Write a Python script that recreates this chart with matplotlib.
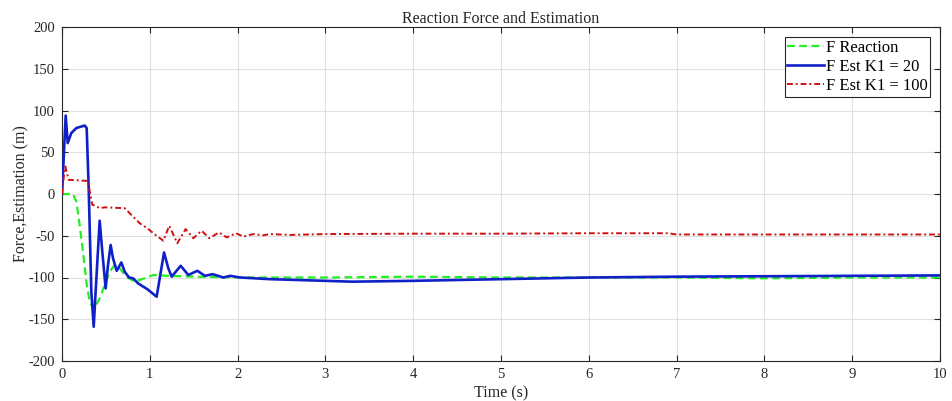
import matplotlib
matplotlib.use("Agg")
import matplotlib.pyplot as plt

plt.rcParams['font.family'] = ['Liberation Serif', 'DejaVu Serif']
plt.rcParams['axes.unicode_minus'] = False

# F Reaction
t_react = [0, 0.125, 0.163, 0.201, 0.239, 0.277, 0.315, 0.364, 0.429, 0.486, 0.543, 0.60,
           0.657, 0.733, 0.828, 0.94, 1.04, 1.2, 1.5, 2, 3, 4, 5, 6, 7, 8, 9, 10]
f_react = [0, 0, -9, -37, -69, -105, -129, -138, -125, -109, -93, -85,
           -89, -99, -105, -101, -97, -98, -99, -100, -100, -99, -100, -100, -100, -101, -100, -100]

# F Est K1 = 20
t_k20 = [0, 0.042, 0.065, 0.106, 0.163, 0.258, 0.281, 0.304, 0.334, 0.361, 0.383, 0.429,
         0.459, 0.497, 0.524, 0.554, 0.581, 0.623, 0.676, 0.714, 0.763, 0.81, 0.866, 0.972,
         1.078, 1.162, 1.211, 1.249, 1.352, 1.439, 1.541, 1.629, 1.716, 1.837, 1.913, 2.027,
         2.37, 3.0, 3.3, 4.0, 5.0, 6.0, 7.0, 8.0, 9.0, 10.0]
f_k20 = [0, 94, 61, 73, 79, 82, 79, 7, -117, -159, -117, -32,
         -69, -113, -85, -61, -77, -92, -82, -93, -100, -101, -107, -114,
         -123, -70, -89, -99, -86, -97, -92, -98, -96, -100, -98, -100,
         -102, -104, -105, -104, -102, -100, -99, -98.5, -98, -97.5]

# F Est K1 = 100
t_k100 = [0, 0.023, 0.038, 0.061, 0.076, 0.296, 0.323, 0.346, 0.38, 0.429, 0.486, 0.714,
          0.79, 0.885, 0.972, 1.04, 1.154, 1.222, 1.313, 1.408, 1.496, 1.59, 1.678, 1.788,
          1.876, 1.982, 2.065, 2.18, 2.29, 2.37, 2.6, 3, 4, 5, 6, 6.9, 7.0, 8, 9, 10]
f_k100 = [0, 23, 33, 23, 17, 15.6, -1, -13, -14, -17, -16, -17,
          -25, -35, -41, -47, -56, -38, -59, -42, -53, -44, -53, -46,
          -52, -47, -51, -48, -49.5, -48, -49, -48, -47.5, -47.5, -47, -47, -48.5, -48.5, -48.5, -48.5]

x_ticks = list(range(0, 11))
y_ticks = list(range(-200, 201, 50))

fig = plt.figure(figsize=(9.52, 4.01), dpi=100)
ax = fig.add_axes([62/952, 1-361/401, (940-62)/952, (361-27)/401])

ax.plot(t_react, f_react, color='#22ee22', lw=1.6, ls=(0, (3.5, 2)), label='F Reaction', zorder=3)
ax.plot(t_k20, f_k20, color='#1020c8', lw=1.9, ls='-', label='F Est K1 = 20', zorder=4)
ax.plot(t_k100, f_k100, color='#d01010', lw=1.4, ls=(0, (3, 1.5, 1, 1.5)), label='F Est K1 = 100', zorder=5)

ax.set_xlim(0, 10)
ax.set_ylim(-200, 200)
ax.set_xticks(x_ticks)
ax.set_yticks(y_ticks)
ax.grid(True, color='#e0e0e0', lw=0.8)
ax.set_axisbelow(True)
ax.tick_params(direction='in', top=True, right=True, labelsize=10.5, colors='#262626', length=4)
ax.tick_params(axis='x', pad=5)
ax.tick_params(axis='y', pad=5)
for s in ax.spines.values():
    s.set_color('#262626')
    s.set_linewidth(0.8)

ax.set_xlabel('Time (s)', fontsize=11.5, color='#262626', labelpad=3.5)
ax.set_ylabel('Force,Estimation (m)', fontsize=11.5, color='#262626', labelpad=-1)
ax.set_title('Reaction Force and Estimation', fontsize=11.5, color='#262626', pad=3)

leg = ax.legend(loc='upper right', fontsize=12, handlelength=2.2, handletextpad=0.1,
                borderaxespad=0.6, fancybox=False, framealpha=1, borderpad=0.15,
                labelspacing=0.2, edgecolor='#262626')
leg.get_frame().set_linewidth(0.8)

fig.savefig('out.png', dpi=100)
